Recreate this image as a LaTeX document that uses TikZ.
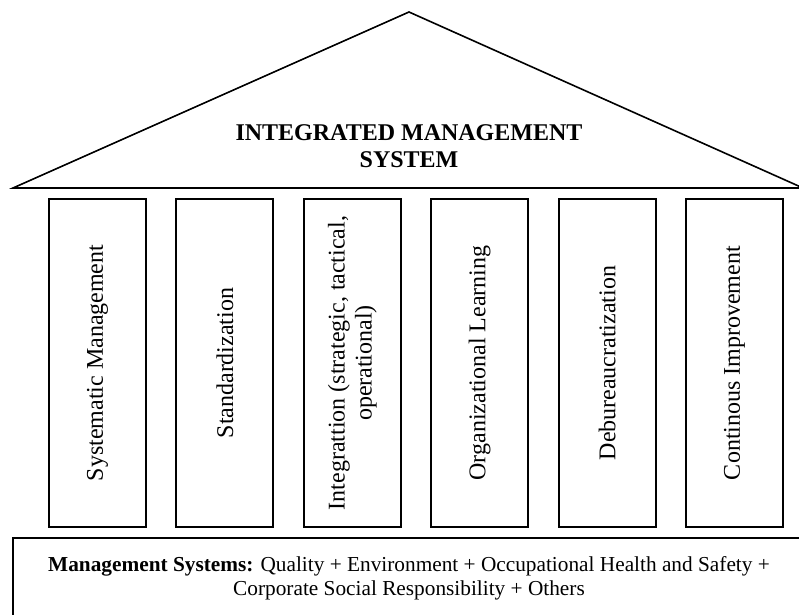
\documentclass[tikz,border=0pt]{standalone}
\usepackage{fontspec}
\setmainfont{Liberation Serif}
\usetikzlibrary{calc,positioning}

\begin{document}
\begin{tikzpicture}[x=1pt, y=-1pt]
\tikzset{pillar/.style={draw,line width=2pt,rotate=90,minimum width=328pt,minimum height=97pt,inner sep=0pt,align=center,font=\fontsize{24}{27}\selectfont},
roofline/.style={line width=1.6pt},
rooflabel/.style={align=center,font=\fontsize{24}{27}\selectfont\bfseries},
basebox/.style={draw,line width=2pt,minimum width=792pt,minimum height=80pt,align=center,font=\fontsize{21.3}{24}\selectfont}}

\useasboundingbox (0,0) rectangle (799,614);

%% Roof
\coordinate (rl) at (13,188);
\coordinate (rt) at (409,12);
\coordinate (rr) at (803,188);
\draw[roofline] (rl) -- (rt) -- (rr) -- cycle;
\node (ims) [rooflabel] at (409,146) {INTEGRATED MANAGEMENT\\SYSTEM};

%% Pillars
\foreach \i/\lab in {1/{Systematic Management}, 2/{Standardization}, 3/{Integrattion (strategic, tactical,\\operational)}, 4/{Organizational Learning}, 5/{Debureaucratization}, 6/{Continous Improvement}}
  \node (p\i) [pillar] at ({97.5+127.4*(\i-1)},363) {\lab};

%% Base
\node (base) [basebox] at (409,578) {\textbf{Management Systems:} Quality + Environment + Occupational Health and Safety +\\Corporate Social Responsibility + Others};

\end{tikzpicture}
\end{document}
